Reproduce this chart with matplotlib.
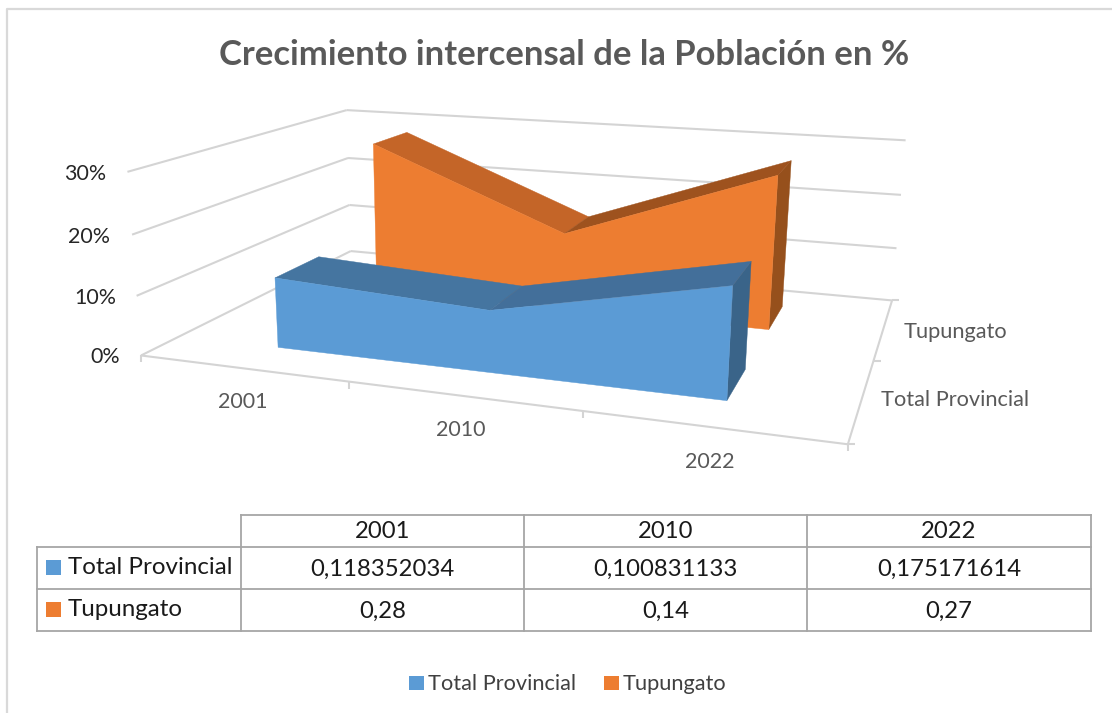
import numpy as np
import matplotlib
matplotlib.use('Agg')
import matplotlib.pyplot as plt
from matplotlib.patches import Polygon, Rectangle, Patch

plt.rcParams['font.family'] = ['Lato', 'DejaVu Sans']

TITLE = 'Crecimiento intercensal de la Población en %'
categories = ['2001', '2010', '2022']
series_names = ['Total Provincial', 'Tupungato']
total_provincial = [0.118352034, 0.100831133, 0.175171614]
tupungato = [0.28, 0.14, 0.27]
value_ticks = [0.0, 0.1, 0.2, 0.3]
value_tick_labels = ['0%', '10%', '20%', '30%']

# camera calibration: (x fraction, depth fraction, value) -> pixel
world = np.array([(0,0,0),(0,1,0),(1,0,0),(1,1,0),(0,0,.1),(0,0,.2),(0,0,.3),
                  (0,1,.1),(0,1,.2),(0,1,.3),(1,1,.1),(1,1,.2),(1,1,.3)], float)
world[:, 2] *= 3
pix = np.array([(142,355),(350,251),(848,444),(892,301),(137,296),(131,235),(127,172),
                (349,205),(348,158),(348,110),(897,248),(901,195),(905,140)], float)
rows = []
for (X, Y, Z), (u, v) in zip(world, pix):
    rows.append([X,Y,Z,1,0,0,0,0,-u*X,-u*Y,-u*Z,-u])
    rows.append([0,0,0,0,X,Y,Z,1,-v*X,-v*Y,-v*Z,-v])
CAM = np.linalg.svd(np.array(rows))[2][-1].reshape(3, 4)

def project(x, d, val):
    p = CAM @ np.array([x, d, val * 3, 1.0])
    return p[0] / p[2], p[1] / p[2]

fig = plt.figure(figsize=(11.12, 7.13), dpi=100)
ax = fig.add_axes([0, 0, 1, 1])
ax.set_xlim(0, 1112); ax.set_ylim(713, 0); ax.axis('off')

GRID = '#D4D4D4'
ax.plot([7, 7, 1112], [713, 9, 9], color='#D9D9D9', lw=1.6)

ax.text(564, 55, TITLE, ha='center', va='center', fontsize=24.9, fontweight='bold', color='#595959')

def seg(a, b):
    ax.plot([a[0], b[0]], [a[1], b[1]], color=GRID, lw=1.5, solid_capstyle='butt', zorder=1)

for v in value_ticks:
    seg(project(0, 0, v), project(0, 1, v))
    seg(project(0, 1, v), project(1, 1, v))
seg(project(0, 0, 0), project(1, 0, 0))
seg(project(1, 0, 0), project(1, 1, 0))
for x in [0, 1/3, 2/3, 1]:
    a = project(x, 0, 0)
    seg(a, (a[0], a[1] + 7))
for d in [0, .5, 1]:
    a = project(1, d, 0)
    seg(a, (a[0] + 7, a[1]))

X_POS = [1/6, 1/2, 5/6]
def area(values, d0, d1, front, tops, side):
    xs = X_POS
    ax.add_patch(Polygon([project(xs[-1], d0, 0), project(xs[-1], d1, 0), project(xs[-1], d1, values[-1]), project(xs[-1], d0, values[-1])], fc=side, ec=side, lw=.3, zorder=2))
    for i in range(len(xs) - 1):
        ax.add_patch(Polygon([project(xs[i], d0, values[i]), project(xs[i], d1, values[i]), project(xs[i+1], d1, values[i+1]), project(xs[i+1], d0, values[i+1])], fc=tops[i], ec=tops[i], lw=.3, zorder=2))
    pts = [project(xs[0], d0, 0)] + [project(x, d0, v) for x, v in zip(xs, values)] + [project(xs[-1], d0, 0)]
    ax.add_patch(Polygon(pts, fc=front, ec=front, lw=.3, zorder=2))

area(tupungato, .65, .85, '#ED7D31', ['#C46528', '#9E521E'], '#96501C')
area(total_provincial, .15, .35, '#5B9BD5', ['#4575A0', '#436F9A'], '#3A6489')

TICKC = '#262626'
for lab, y, xr in zip(value_tick_labels, [357, 298, 237, 174], [120, 116, 110, 106]):
    ax.text(xr, y, lab, ha='right', va='center', fontsize=15.4, color=TICKC)
for lab, x, y in zip(categories, [243, 461, 710], [402.5, 430.5, 461.5]):
    ax.text(x, y, lab, ha='center', va='center', fontsize=15.5, color='#595959')
for lab, x, y in zip(series_names, [955, 955], [400, 332]):
    ax.text(x, y, lab, ha='center', va='center', fontsize=15.7, color='#595959')

# data table
TL = '#A6A6A6'
xs = [37, 241, 524, 807, 1091]
ys = [515, 547, 589, 631]
ax.plot([241, 1091], [515, 515], color=TL, lw=1.3)
for y in ys[1:]:
    ax.plot([37, 1091], [y, y], color=TL, lw=1.3)
ax.plot([37, 37], [547, 631], color=TL, lw=1.3)
for x in xs[1:]:
    ax.plot([x, x], [515, 631], color=TL, lw=1.3)
for j, c in enumerate(categories):
    ax.text((xs[j+1] + xs[j+2]) / 2, 532, c, ha='center', va='center', fontsize=17.2, color='#1a1a1a')
for i, (name, vals, col) in enumerate(zip(series_names, [total_provincial, tupungato], ['#5B9BD5', '#ED7D31'])):
    yc = (ys[i+1] + ys[i+2]) / 2
    ax.add_patch(Rectangle((46, yc - 8), 15, 15, fc=col, ec='none'))
    ax.text(68, yc, name, ha='left', va='center', fontsize=17.4, color='#1a1a1a')
    for j, v in enumerate(vals):
        ax.text((xs[j+1] + xs[j+2]) / 2, yc + 1, str(v).replace('.', ','), ha='center', va='center', fontsize=17.2, color='#1a1a1a')

fig.legend(handles=[Patch(fc='#5B9BD5', label=series_names[0]), Patch(fc='#ED7D31', label=series_names[1])],
           loc='center', bbox_to_anchor=(568/1112, 1 - 684.5/713), ncol=2, frameon=False,
           fontsize=15.7, handlelength=.65, handleheight=.65, handletextpad=.2, columnspacing=1.3, labelcolor='#404040')

fig.savefig('out.png', dpi=100)
